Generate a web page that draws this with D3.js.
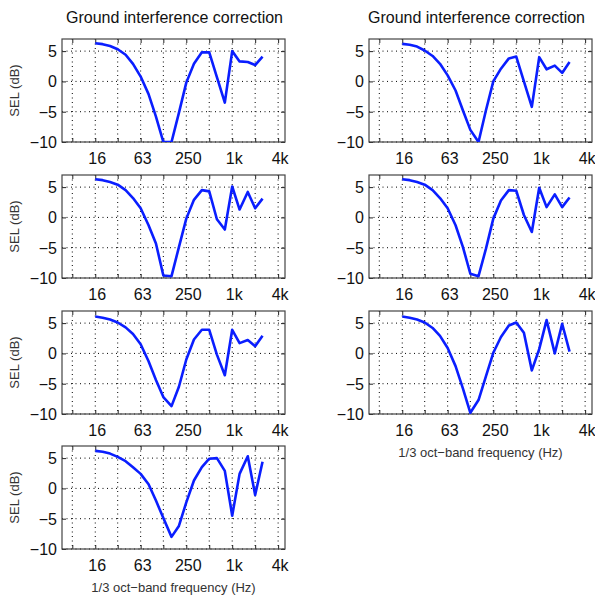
<!DOCTYPE html>
<html>
<head>
<meta charset="utf-8">
<script src="https://cdn.jsdelivr.net/npm/d3@7"></script>
<style>
  body { margin: 0; background: #fff; }
  text { font-family: "Liberation Sans", Arial, sans-serif; }
</style>
</head>
<body>
<div id="chart"></div>
<script>
// 1/3 octave band centre frequencies (Hz)
var bands = [16, 20, 25, 31.5, 40, 50, 63, 80, 100, 125, 160, 200, 250,
             315, 400, 500, 630, 800, 1000, 1250, 1600, 2000, 2500];
var gridFreqs = [8, 16, 31.5, 63, 125, 250, 500, 1000, 2000, 4000];
var tickFreqs = [16, 63, 250, 1000, 4000];
var tickNames = ["16", "63", "250", "1k", "4k"];
var yTicks = [-10, -5, 0, 5];

// SEL correction (dB), one array per panel
var selL1 = [6.3, 6.15, 5.85, 5.3, 4.4, 2.9, 0.8, -2.1, -5.8, -10, -10, -5.2, -0.2,
             2.9, 4.8, 4.8, 0.7, -3.5, 5.0, 3.3, 3.2, 2.7, 4.1];
var selR1 = [6.2, 6.05, 5.75, 5.1, 4.2, 2.9, 1.0, -1.5, -4.8, -8.0, -10, -4.8, 0.0,
             2.1, 3.8, 4.1, 0.0, -4.2, 4.0, 2.0, 2.6, 1.4, 3.2];
var selL2 = [6.3, 6.15, 5.85, 5.4, 4.5, 3.2, 1.5, -1.3, -4.3, -9.6, -9.7, -4.9, -0.2,
             2.9, 4.5, 4.3, -0.3, -2.0, 5.1, 1.3, 4.2, 1.5, 3.1];
var selR2 = [6.3, 6.15, 5.85, 5.4, 4.5, 3.2, 1.5, -1.3, -4.9, -9.3, -9.7, -5.2, -0.2,
             2.8, 4.5, 4.4, 0.4, -2.4, 4.9, 1.7, 3.8, 1.7, 3.3];
var selL3 = [6.1, 5.9, 5.6, 5.1, 4.3, 3.2, 1.5, -1.3, -4.4, -7.2, -8.7, -5.5, -1.0,
             2.3, 3.9, 3.9, -0.2, -3.6, 3.9, 1.7, 2.2, 1.2, 2.9];
var selR3 = [6.1, 5.9, 5.6, 5.1, 4.2, 2.9, 0.9, -2.1, -5.8, -9.8, -7.7, -3.8, 0.1,
             2.7, 4.6, 5.1, 3.4, -2.8, 0.7, 5.5, 0.0, 4.9, 0.3];
var selL4 = [6.2, 6.05, 5.75, 5.2, 4.5, 3.5, 2.4, 0.7, -2.0, -4.9, -8.0, -6.2, -2.3,
             1.3, 3.5, 4.9, 5.0, 2.9, -4.5, 2.4, 5.3, -1.1, 4.4];

var panels = [
  {col: 0, row: 0, values: selL1},
  {col: 0, row: 1, values: selL2},
  {col: 0, row: 2, values: selL3},
  {col: 0, row: 3, values: selL4},
  {col: 1, row: 0, values: selR1},
  {col: 1, row: 1, values: selR2},
  {col: 1, row: 2, values: selR3}
];

var colX = [62, 369],
    rowY = [39, 175, 311, 446],
    titleShift = [1, -4],
    width = 223,
    height = 103;

var svg = d3.select("#chart")
  .append("svg")
    .attr("width", 595)
    .attr("height", 596);

var x = d3.scaleLog()
  .domain([5.86, 4925])
  .range([0, width]);

var y = d3.scaleLinear()
  .domain([-10, 7])
  .range([height, 0]);

var line = d3.line()
  .x(function(d, i) { return x(bands[i]); })
  .y(function(d) { return y(d); });

panels.forEach(function(p, k) {
  var g = svg.append("g")
    .attr("transform", "translate(" + colX[p.col] + "," + rowY[p.row] + ")");

  g.append("clipPath")
    .attr("id", "clip" + k)
    .append("rect")
      .attr("width", width)
      .attr("height", height);

  // dotted grid
  g.selectAll("vgrid")
    .data(gridFreqs)
    .enter()
    .append("line")
      .attr("x1", function(d) { return x(d); })
      .attr("x2", function(d) { return x(d); })
      .attr("y1", 0)
      .attr("y2", height)
      .attr("stroke", "#000")
      .attr("stroke-width", 1)
      .attr("stroke-dasharray", "1,3.5");
  g.selectAll("hgrid")
    .data(yTicks)
    .enter()
    .append("line")
      .attr("x1", 0)
      .attr("x2", width)
      .attr("y1", function(d) { return y(d); })
      .attr("y2", function(d) { return y(d); })
      .attr("stroke", "#000")
      .attr("stroke-width", 1)
      .attr("stroke-dasharray", "1,3.5");

  // inward ticks on all four sides
  var xb = d3.axisBottom(x).tickValues(gridFreqs).tickSizeInner(-4).tickSizeOuter(0).tickFormat("");
  var xt = d3.axisTop(x).tickValues(gridFreqs).tickSizeInner(-4).tickSizeOuter(0).tickFormat("");
  var yl = d3.axisLeft(y).tickValues(yTicks).tickSizeInner(-4).tickSizeOuter(0).tickFormat("");
  var yr = d3.axisRight(y).tickValues(yTicks).tickSizeInner(-4).tickSizeOuter(0).tickFormat("");
  g.append("g").attr("transform", "translate(0," + height + ")").call(xb);
  g.append("g").call(xt);
  g.append("g").call(yl);
  g.append("g").attr("transform", "translate(" + width + ",0)").call(yr);
  g.selectAll(".domain").remove();
  g.selectAll(".tick line").attr("stroke", "#222");

  // box
  g.append("rect")
    .attr("width", width)
    .attr("height", height)
    .attr("fill", "none")
    .attr("stroke", "#444")
    .attr("stroke-width", 1.2);

  // tick labels
  g.selectAll("xlab")
    .data(tickFreqs)
    .enter()
    .append("text")
      .attr("x", function(d) { return x(d) + 2; })
      .attr("y", height + 22)
      .attr("text-anchor", "middle")
      .attr("font-size", "16px")
      .attr("fill", "#111")
      .text(function(d, i) { return tickNames[i]; });
  g.selectAll("ylab")
    .data(yTicks)
    .enter()
    .append("text")
      .attr("x", -5)
      .attr("y", function(d) { return y(d) + 6; })
      .attr("text-anchor", "end")
      .attr("font-size", "16px")
      .attr("fill", "#111")
      .text(function(d) { return d < 0 ? "\u2212" + Math.abs(d) : d; });

  // curve
  g.append("path")
    .datum(p.values)
    .attr("clip-path", "url(#clip" + k + ")")
    .attr("fill", "none")
    .attr("stroke", "#0a1eff")
    .attr("stroke-width", 2.6)
    .attr("stroke-linejoin", "round")
    .attr("d", line);

  if (p.row == 0) {
    g.append("text")
      .attr("x", width / 2 + titleShift[p.col])
      .attr("y", -16)
      .attr("text-anchor", "middle")
      .attr("font-size", "16px")
      .attr("fill", "#111")
      .text("Ground interference correction");
  }
  if (p.col == 0) {
    g.append("text")
      .attr("transform", "translate(-43," + (height / 2) + ") rotate(-90)")
      .attr("text-anchor", "middle")
      .attr("font-size", "13px")
      .attr("fill", "#333")
      .text("SEL (dB)");
  }
  if ((p.col == 0 && p.row == 3) || (p.col == 1 && p.row == 2)) {
    g.append("text")
      .attr("x", width / 2)
      .attr("y", height + 43)
      .attr("text-anchor", "middle")
      .attr("font-size", "13px")
      .attr("fill", "#333")
      .text("1/3 oct\u2212band frequency (Hz)");
  }
});
</script>
</body>
</html>
